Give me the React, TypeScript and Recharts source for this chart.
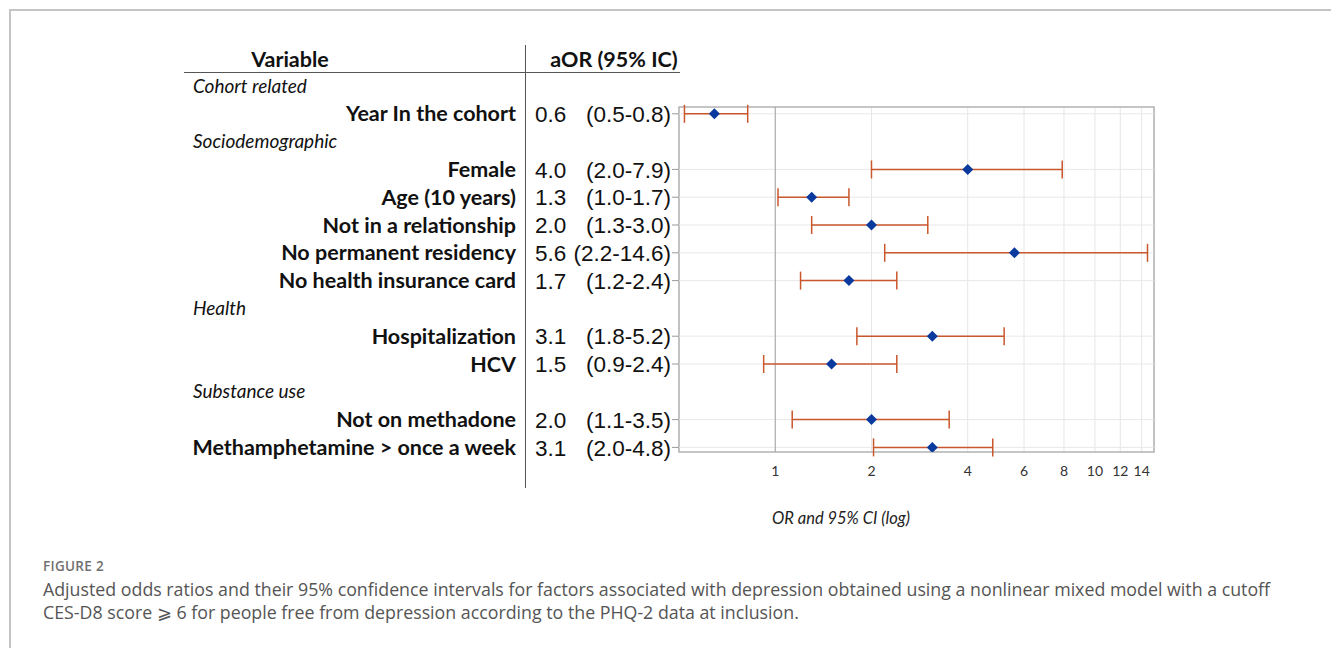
import { CartesianGrid, ErrorBar, ReferenceArea, ReferenceLine, Scatter, ScatterChart, XAxis, YAxis } from "recharts"

// table sections and their row slots
const sections = ["Cohort related", "Sociodemographic", "Health", "Substance use"]
const sectionSlots = [0, 2, 8, 11]

const variables = [
  "Year In the cohort",
  "Female",
  "Age (10 years)",
  "Not in a relationship",
  "No permanent residency",
  "No health insurance card",
  "Hospitalization",
  "HCV",
  "Not on methadone",
  "Methamphetamine > once a week",
]
const variableSlots = [1, 3, 4, 5, 6, 7, 9, 10, 12, 13]

const aor = [0.645, 4.0, 1.3, 2.0, 5.6, 1.7, 3.1, 1.5, 2.0, 3.1]
const ciLow = [0.52, 2.0, 1.02, 1.3, 2.2, 1.2, 1.8, 0.92, 1.13, 2.03]
const ciHigh = [0.82, 7.9, 1.7, 3.0, 14.6, 2.4, 5.2, 2.4, 3.5, 4.79]

const xTicks = [1, 2, 4, 6, 8, 10, 12, 14]

const data = variables.map((name, i) => ({
  name,
  slot: variableSlots[i],
  or: aor[i],
  err: [aor[i] - ciLow[i], ciHigh[i] - aor[i]],
}))

const allSlots = [...sectionSlots, ...variableSlots].sort((a, b) => a - b)

const X_DOMAIN: [number, number] = [0.5, 15.3]
const Y_DOMAIN: [number, number] = [0.755, 13.165]

const labelFont = "Lato, 'Open Sans', sans-serif"
const numFont = "'Liberation Sans', Arial, sans-serif"

function RowTick(props: any) {
  const { y, payload } = props
  const slot = payload.value
  const s = sectionSlots.indexOf(slot)
  if (s >= 0) {
    return (
      <text x={193} y={y} dy="0.35em" fontFamily={labelFont} fontStyle="italic" fontSize={19} fill="#111">
        {sections[s]}
      </text>
    )
  }
  const i = variableSlots.indexOf(slot)
  return (
    <g>
      <text x={516} y={y} dy="0.35em" textAnchor="end" fontFamily={labelFont} fontWeight={700} fontSize={21.5} fill="#111">
        {variables[i]}
      </text>
      <text x={535} y={y} dy="0.36em" fontFamily={numFont} fontSize={22.5} fill="#111">
        {aor[i].toFixed(1)}
      </text>
      <text x={671} y={y} dy="0.36em" textAnchor="end" fontFamily={numFont} fontSize={22.5} fill="#111">
        {`(${ciLow[i].toFixed(1)}-${ciHigh[i].toFixed(1)})`}
      </text>
      <line x1={672} x2={679} y1={y} y2={y} stroke="#999" />
    </g>
  )
}

function Diamond(props: any) {
  const { cx, cy } = props
  const r = 5.5
  return <polygon points={`${cx},${cy - r} ${cx + r},${cy} ${cx},${cy + r} ${cx - r},${cy}`} fill="#0a3a9e" />
}

function AxisTitle(props: any) {
  const { viewBox } = props
  return (
    <text x={841} y={viewBox.y + 72} textAnchor="middle" fontFamily={labelFont} fontStyle="italic" fontSize={16.5} fill="#222">
      OR and 95% CI (log)
    </text>
  )
}

export default function App() {
  return (
    <div style={{ position: "absolute", left: 0, top: 0, width: 1331, height: 648, background: "#fff", overflow: "hidden" }}>
      {/* figure frame */}
      <div style={{ position: "absolute", left: 9, top: 9, width: 1340, height: 660, borderTop: "2px solid #c4c4c4", borderLeft: "2px solid #c4c4c4" }} />

      {/* table header */}
      <div style={{ position: "absolute", left: 184, top: 72, width: 496, borderTop: "1px solid #555" }} />
      <div style={{ position: "absolute", left: 525, top: 45, height: 443, borderLeft: "1px solid #555" }} />
      <div style={{ position: "absolute", left: 200, width: 180, top: 46, textAlign: "center", fontFamily: labelFont, fontWeight: 700, fontSize: 21.5, color: "#111" }}>
        Variable
      </div>
      <div style={{ position: "absolute", left: 540, width: 148, top: 46, textAlign: "center", fontFamily: labelFont, fontWeight: 700, fontSize: 21.5, color: "#111" }}>
        aOR (95% IC)
      </div>

      <div style={{ position: "absolute", left: 0, top: 0 }}>
        <ScatterChart width={1200} height={540} margin={{ top: 107, right: 46, left: 0, bottom: 0 }}>
          <CartesianGrid horizontal={false} stroke="#e6e6e6" />
          <XAxis
            type="number"
            dataKey="or"
            scale="log"
            domain={X_DOMAIN}
            allowDataOverflow
            ticks={xTicks}
            interval={0}
            height={88}
            axisLine={false}
            tickLine={false}
            tickMargin={8}
            tick={{ fontFamily: labelFont, fontSize: 14, fill: "#333" }}
            label={AxisTitle}
          />
          <YAxis
            type="number"
            dataKey="slot"
            domain={Y_DOMAIN}
            allowDataOverflow
            reversed
            width={679}
            ticks={allSlots}
            interval={0}
            axisLine={false}
            tickLine={false}
            tick={RowTick}
          />
          {variableSlots.map((s) => (
            <ReferenceLine key={s} y={s} stroke="#e8e8e8" />
          ))}
          <ReferenceLine x={1} stroke="#a3a3a3" />
          <ReferenceArea x1={X_DOMAIN[0]} x2={X_DOMAIN[1]} y1={Y_DOMAIN[0]} y2={Y_DOMAIN[1]} fill="none" stroke="#b3b3b3" strokeWidth={1.5} />
          <Scatter data={data} shape={Diamond} isAnimationActive={false}>
            <ErrorBar dataKey="err" direction="x" width={9} stroke="#c9572c" strokeWidth={1.5} isAnimationActive={false} />
          </Scatter>
        </ScatterChart>
      </div>

      {/* caption */}
      <div style={{ position: "absolute", left: 43, top: 557, fontFamily: "'Open Sans', sans-serif", fontWeight: 600, fontSize: 13.5, color: "#707070", letterSpacing: 0.3 }}>
        FIGURE 2
      </div>
      <div style={{ position: "absolute", left: 43, top: 578, fontFamily: "'Open Sans', sans-serif", fontSize: 17.8, lineHeight: "23px", color: "#555", whiteSpace: "nowrap" }}>
        Adjusted odds ratios and their 95% confidence intervals for factors associated with depression obtained using a nonlinear mixed model with a cutoff
        <br />
        CES-D8 score ⩾ 6 for people free from depression according to the PHQ-2 data at inclusion.
      </div>
    </div>
  )
}
